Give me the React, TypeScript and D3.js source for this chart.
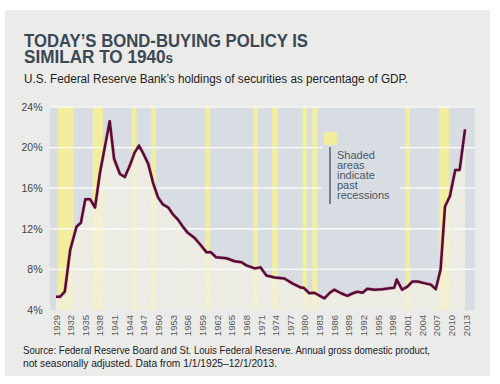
import * as React from "react";
import * as d3 from "d3";

// holdings of securities as % of GDP
const years: number[] = [
  1929, 1929.8, 1930.8, 1931.9, 1933.2, 1934.1, 1935, 1936, 1937, 1938,
  1940, 1940.9, 1942.1, 1943.1, 1944.1, 1945.1, 1946, 1946.8, 1947.9, 1948.9,
  1949.9, 1950.9, 1952, 1953, 1954, 1955, 1956, 1957.4, 1958.8, 1959.8,
  1960.7, 1961.8, 1963.9, 1965.6, 1967, 1968, 1969.7, 1970.9, 1972.1, 1973.8,
  1975.8, 1977.5, 1979.2, 1979.7, 1980.9, 1981.9, 1984, 1985.1, 1986, 1987.4,
  1988.7, 1989.8, 1990.8, 1991.8, 1992.8, 1994.2, 1995.9, 1997.3, 1998.3, 1998.8,
  1999.9, 2001, 2002, 2003.1, 2004.4, 2005.8, 2006.8, 2007.8, 2008.7, 2009.7,
  2010.8, 2011.7, 2012.8
];
const holdings: number[] = [
  5.3, 5.3, 5.8, 9.9, 12.2, 12.6, 14.9, 14.9, 14.1, 17.5,
  22.6, 18.9, 17.4, 17.1, 18.2, 19.5, 20.2, 19.5, 18.4, 16.5,
  15.1, 14.4, 14.1, 13.4, 12.9, 12.2, 11.6, 11.1, 10.3, 9.7,
  9.7, 9.2, 9.1, 8.8, 8.7, 8.4, 8.1, 8.2, 7.4, 7.2,
  7.1, 6.6, 6.2, 6.2, 5.65, 5.7, 5.15, 5.7, 6.0, 5.65,
  5.4, 5.65, 5.8, 5.7, 6.1, 6.0, 6.05, 6.15, 6.2, 7.0,
  6.0, 6.3, 6.8, 6.8, 6.65, 6.5, 6.05, 8.0, 14.2, 15.2,
  17.8, 17.8, 21.8
];

// recession bands as drawn [start, end]
const recessionStart: number[] = [1929.4, 1936.5, 1944.5, 1948.5, 1959.5, 1969.4, 1973.3, 1979.5, 1981.5, 2000.5, 2007.5];
const recessionEnd: number[] = [1932.6, 1938.6, 1945.5, 1949.5, 1960.6, 1970.4, 1974.5, 1980.4, 1982.6, 2001.5, 2009.5];

const yTicks: number[] = [4, 8, 12, 16, 20, 24];
const xTickYears: number[] = d3.range(1929, 2014, 3);

const titleLines: string[] = ["TODAY\u2019S BOND-BUYING POLICY IS", "SIMILAR TO 1940"];
const subtitle: string = "U.S. Federal Reserve Bank\u2019s holdings of securities as percentage of GDP.";
const sourceLines: string[] = [
  "Source: Federal Reserve Board and St. Louis Federal Reserve. Annual gross domestic product,",
  "not seasonally adjusted. Data from 1/1/1925\u201312/1/2013."
];
const legendLines: string[] = ["Shaded", "areas", "indicate", "past", "recessions"];

const FONT = "'Liberation Sans', Arial, sans-serif";

export default class App extends React.PureComponent {
  private svgRef = React.createRef<SVGSVGElement>();

  public componentDidMount(): void {
    this.drawChart();
  }

  public render(): JSX.Element {
    return <svg ref={this.svgRef} width={500} height={384}
      style={{ position: "absolute", left: 0, top: 0, background: "#ffffff" }} />;
  }

  private drawChart(): void {
    const svg = d3.select(this.svgRef.current);
    svg.selectAll("*").remove();

    const plot = { left: 50, right: 475, top: 107, bottom: 310 };
    const x = d3.scaleLinear().domain([1929, 2013]).range([56, 466]);
    const y = d3.scaleLinear().domain([4, 24]).range([plot.bottom, plot.top]);

    // panel
    svg.append("rect").attr("x", 5).attr("y", 10).attr("width", 485).attr("height", 366)
      .attr("fill", "#ebebea");

    // hatch for the area
    const defs = svg.append("defs");
    const pat = defs.append("pattern").attr("id", "hatch")
      .attr("patternUnits", "userSpaceOnUse").attr("width", 4).attr("height", 4)
      .attr("patternTransform", "rotate(45)");
    pat.append("line").attr("x1", 0).attr("y1", 0).attr("x2", 0).attr("y2", 4)
      .attr("stroke", "#ffffff").attr("stroke-width", 1.2).attr("stroke-opacity", 0.45);

    // titles
    const title = svg.append("g").attr("fill", "#3b4856").attr("font-family", FONT)
      .attr("font-weight", "bold").attr("font-size", 19);
    title.append("text").attr("x", 24).attr("y", 46.5).attr("textLength", 284)
      .attr("lengthAdjust", "spacingAndGlyphs").text(titleLines[0]);
    const t2 = title.append("text").attr("x", 24).attr("y", 63).attr("textLength", 149)
      .attr("lengthAdjust", "spacingAndGlyphs");
    t2.append("tspan").text(titleLines[1]);
    t2.append("tspan").attr("font-size", 15).text("s");

    svg.append("text").attr("x", 24).attr("y", 83).attr("font-family", FONT)
      .attr("font-size", 12).attr("fill", "#222").attr("textLength", 384)
      .attr("lengthAdjust", "spacingAndGlyphs").text(subtitle);

    // plot background
    svg.append("rect").attr("x", plot.left).attr("y", plot.top)
      .attr("width", plot.right - plot.left).attr("height", plot.bottom - plot.top)
      .attr("fill", "#d8dde3");

    // recessions
    svg.append("g").selectAll("rect").data(recessionStart).enter().append("rect")
      .attr("x", (d: number) => x(d))
      .attr("width", (d: number, i: number) => x(recessionEnd[i]) - x(d))
      .attr("y", plot.top).attr("height", plot.bottom - plot.top)
      .attr("fill", "#f2ee9e");

    const pts: [number, number][] = years.map((yr: number, i: number) => [yr, holdings[i]]);

    const area = d3.area<[number, number]>()
      .x((d) => x(d[0])).y0(plot.bottom).y1((d) => y(d[1]));
    svg.append("path").datum(pts).attr("d", area).attr("fill", "#f3f0e0").attr("fill-opacity", 0.72);
    svg.append("path").datum(pts).attr("d", area).attr("fill", "url(#hatch)");

    // gridlines
    svg.append("g").selectAll("line").data(yTicks.filter((t: number) => t > 4)).enter().append("line")
      .attr("x1", plot.left).attr("x2", plot.right)
      .attr("y1", (d: number) => y(d)).attr("y2", (d: number) => y(d))
      .attr("stroke", "#ffffff").attr("stroke-width", 1.2);

    // legend box (breaks the gridlines)
    svg.append("rect").attr("x", 322).attr("y", 128).attr("width", 78).attr("height", 80)
      .attr("fill", "#d8dde3");
    svg.append("rect").attr("x", 324).attr("y", 132).attr("width", 13).attr("height", 13)
      .attr("fill", "#f2ee9e");
    svg.append("line").attr("x1", 330).attr("x2", 330).attr("y1", 147).attr("y2", 204)
      .attr("stroke", "#4a4f55").attr("stroke-width", 1.3);
    svg.append("g").selectAll("text").data(legendLines).enter().append("text")
      .attr("x", 337).attr("y", (d: string, i: number) => 158.5 + i * 10.2)
      .attr("font-family", FONT).attr("font-size", 11).attr("fill", "#4a5663")
      .text((d: string) => d);

    // line
    const line = d3.line<[number, number]>().x((d) => x(d[0])).y((d) => y(d[1]));
    svg.append("path").datum(pts).attr("d", line).attr("fill", "none")
      .attr("stroke", "#c78ba6").attr("stroke-width", 3.6).attr("stroke-opacity", 0.5)
      .attr("stroke-linejoin", "round");
    svg.append("path").datum(pts).attr("d", line).attr("fill", "none")
      .attr("stroke", "#5a0a33").attr("stroke-width", 2.5).attr("stroke-linejoin", "round");

    // y labels
    svg.append("g").selectAll("text").data(yTicks).enter().append("text")
      .attr("x", 42.5).attr("y", (d: number) => y(d) + 3.8).attr("text-anchor", "end")
      .attr("font-family", FONT).attr("font-size", 10.5).attr("fill", "#444")
      .text((d: number) => `${d}%`);

    // x labels
    svg.append("g").selectAll("text").data(xTickYears).enter().append("text")
      .attr("transform", (d: number) => `translate(${x(d) + 3.5}, 315) rotate(-90)`)
      .attr("text-anchor", "end")
      .attr("font-family", FONT).attr("font-size", 9.5).attr("fill", "#5a5a5a")
      .text((d: number) => String(d));

    // source
    svg.append("g").selectAll("text").data(sourceLines).enter().append("text")
      .attr("x", 23).attr("y", (d: string, i: number) => 354 + i * 12.5)
      .attr("font-family", FONT).attr("font-size", 11).attr("fill", "#222")
      .attr("textLength", (d: string, i: number) => (i === 0 ? 407 : 254))
      .attr("lengthAdjust", "spacingAndGlyphs")
      .text((d: string) => d);
  }
}
